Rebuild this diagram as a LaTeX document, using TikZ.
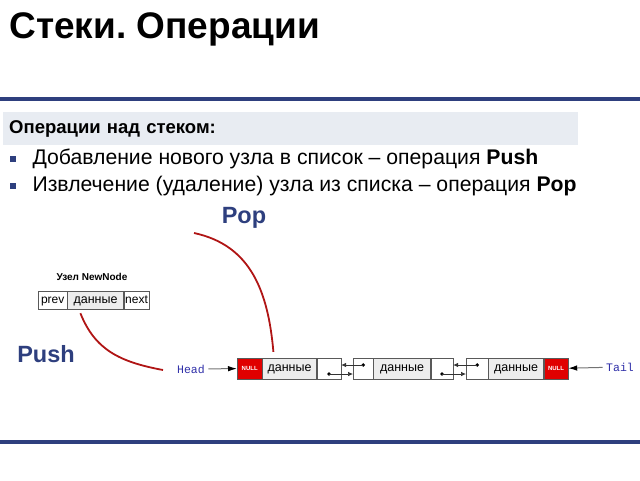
\documentclass[tikz,border=0pt]{standalone}
\usepackage{fontspec}
\setmainfont{Liberation Sans}
\newfontfamily\codefont{Liberation Mono}
\usetikzlibrary{positioning,arrows.meta}
\definecolor{navy}{HTML}{2E3F7E}
\definecolor{boxgrey}{HTML}{E8ECF2}
\definecolor{cellgrey}{HTML}{EDEDED}
\definecolor{nullred}{HTML}{E00000}
\definecolor{curvered}{HTML}{B01515}
\definecolor{codeblue}{HTML}{2F2FA8}

\begin{document}
\begin{tikzpicture}[x=1pt, y=-1pt, cell/.style={draw=black!65, minimum height=21pt, inner sep=0pt, text depth=0pt, font=\fontsize{12.5}{12.5}\selectfont}, datacell/.style={cell, fill=cellgrey}, nullcell/.style={cell, fill=nullred, text=white, font=\bfseries\fontsize{6}{6}\selectfont}, ptr/.style={circle, fill, inner sep=0pt, minimum size=3.8pt}, link/.style={-{Latex[length=5pt,width=4.5pt]}, black!80, line width=0.7pt}, endlink/.style={-{Latex[length=9pt,width=5.5pt,color=black]}, black!55, line width=1pt}, bullet/.style={fill=navy, minimum size=6pt, inner sep=0pt}, oplabel/.style={text=navy, font=\bfseries\fontsize{23.5}{23.5}\selectfont}, curve/.style={curvered, line width=1.8pt}]

    \useasboundingbox (0,0) rectangle (640,480);

    \node[anchor=west, font=\bfseries\fontsize{37}{37}\selectfont] (title) at (6,29) {Стеки.\ Операции};
    \draw[navy, line width=4.5pt] (0,99) -- (640,99);
    \draw[navy, line width=4.5pt] (0,442) -- (640,442);

    \node[fill=boxgrey, anchor=north west, minimum height=33pt, text width=563pt, inner xsep=6pt, font=\bfseries\fontsize{18.5}{18.5}\selectfont] (opbox) at (3,112) {Операции над стеком:};
    \node[bullet] (b1) at (13,159) {};
    \node[anchor=west, font=\fontsize{21.2}{21.2}\selectfont] (item1) at (29,159) {Добавление нового узла в список – операция \textbf{Push}};
    \node[bullet] (b2) at (13,186) {};
    \node[anchor=west, font=\fontsize{21.2}{21.2}\selectfont] (item2) at (29,186) {Извлечение (удаление) узла из списка – операция \textbf{Pop}};

    \node[oplabel] (poplabel) at (244,218) {Pop};
    \node[oplabel] (pushlabel) at (46,354) {Push};

    % new node
    \node[font=\bfseries\fontsize{10}{10}\selectfont] (nntitle) at (92,277) {Узел NewNode};
    \node[cell, minimum height=18pt, minimum width=29pt, anchor=west, font=\fontsize{12}{12}\selectfont] (nnprev) at (38,300) {prev};
    \node[datacell, minimum height=18pt, minimum width=56pt, right=0pt of nnprev] (nndata) {данные};
    \node[cell, minimum height=18pt, minimum width=25pt, right=0pt of nndata, font=\fontsize{12}{12}\selectfont] (nnnext) {next};

    % list
    \node[nullcell, minimum width=25pt, anchor=west] (null1) at (237,368.5) {NULL};
    \node[datacell, minimum width=54pt, right=0pt of null1] (data1) {данные};
    \node[cell, minimum width=24pt, right=0pt of data1] (ptr1r) {};
    \node[cell, minimum width=20pt, anchor=west] (ptr2l) at (353,368.5) {};
    \node[datacell, minimum width=57pt, right=0pt of ptr2l] (data2) {данные};
    \node[cell, minimum width=22pt, right=0pt of data2] (ptr2r) {};
    \node[cell, minimum width=22pt, anchor=west] (ptr3l) at (466,368.5) {};
    \node[datacell, minimum width=55pt, right=0pt of ptr3l] (data3) {данные};
    \node[nullcell, minimum width=24pt, right=0pt of data3] (null3) {NULL};

    \node[ptr] (d1) at ([yshift=-5.5pt]ptr1r.center) {};
    \node[ptr] (d2) at ([yshift=3.5pt]ptr2l.center) {};
    \node[ptr] (d3) at ([yshift=-5.5pt]ptr2r.center) {};
    \node[ptr] (d4) at ([yshift=3.5pt]ptr3l.center) {};
    \draw[link] (d1.center) -- (d1 -| ptr2l.west);
    \draw[link] (d2.center) -- (d2 -| ptr1r.east);
    \draw[link] (d3.center) -- (d3 -| ptr3l.west);
    \draw[link] (d4.center) -- (d4 -| ptr2r.east);

    \node[text=codeblue, font=\codefont\fontsize{11.5}{11.5}\selectfont] (head) at (191,369) {Head};
    \node[text=codeblue, font=\codefont\fontsize{11.5}{11.5}\selectfont] (tail) at (620,367) {Tail};
    \draw[endlink] (head) -- (null1);
    \draw[endlink] (tail) -- (null3);

    \coordinate (popstart) at (194,233);
    \coordinate (pushend) at (163,370);
    \draw[curve] (popstart) .. controls (250,245) and (268,290) .. ([xshift=11pt,yshift=6pt]data1.north west);
    \draw[curve] ([xshift=13pt,yshift=-4pt]nndata.south west) .. controls (95,350) and (120,362) .. (pushend);
  \end{tikzpicture}
\end{document}
